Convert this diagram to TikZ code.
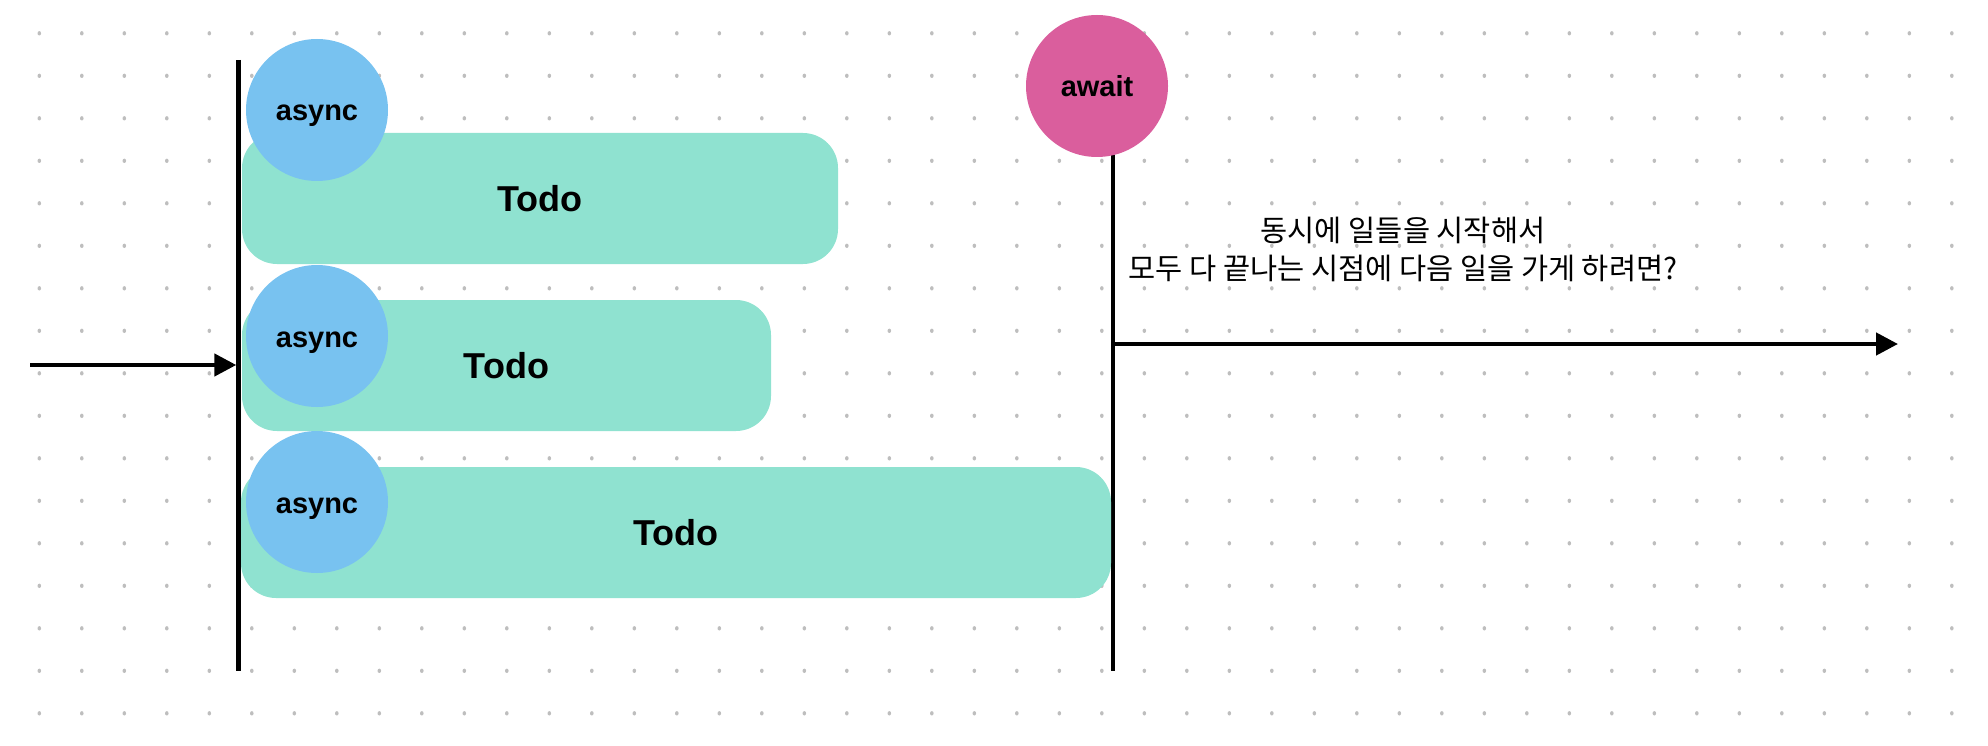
\documentclass[tikz,border=0pt]{standalone}
\usepackage{fontspec}
\setmainfont{Liberation Sans}
\newfontfamily\krfont{Noto Sans CJK KR}
\usepackage{xcolor}
\usepackage{tikz}
\usetikzlibrary{calc, arrows.meta, positioning, backgrounds}

\definecolor{asyncblue}{RGB}{120,194,240}
\definecolor{todogreen}{RGB}{143,226,208}
\definecolor{awaitpink}{RGB}{218,94,157}
\definecolor{dotgray}{RGB}{190,190,190}

\begin{document}
\begin{tikzpicture}[x=1pt,y=-1pt,
		todobox/.style={fill=todogreen, rounded corners=35pt, minimum height=131pt, inner sep=0pt, font=\fontsize{36}{42}\selectfont\bfseries},
		ball/.style={circle, minimum size=142pt, inner sep=0pt, text height=22pt, text depth=0pt, font=\fontsize{29}{34}\selectfont\bfseries},
		timeline/.style={line width=4.5pt},
		flow/.style={line width=4.5pt, -{Triangle[length=22pt,width=22pt]}}]
			% Picture's grid definition
			\def\gridX{39.3}
			\def\gridY{33.3}
			\def\gap{42.5}
			
			\useasboundingbox (0,0) rectangle (1988,746);
			
			% DOT GRID
			\foreach \i in {0,...,45}{
				\foreach \j in {0,...,16}{
					\fill[dotgray] ({\gridX+\gap*\i},{\gridY+\gap*\j}) ellipse (1.8 and 2.2);
				}
			}
			
			% TIMELINES
			\coordinate (forkTop) at (238.5,60);
			\coordinate (forkBot) at (238.5,671);
			\coordinate (joinTop) at (1113,150);
			\coordinate (joinBot) at (1113,671);
			\coordinate (start) at (30,365);
			\coordinate (finish) at (1898,344);
			\draw[timeline] (forkTop) -- (forkBot);
			\draw[timeline] (joinTop) -- (joinBot);
			
			% INPUT AND OUTPUT ARROWS
			\draw[flow] (start) -- (start -| 236.3,0);
			\draw[flow] (finish -| joinTop) -- (finish);
			
			% TODO BOXES
			\node[todobox, minimum width=596pt] (todo1) at (540,198.5) {Todo};
			\node[todobox, minimum width=529pt] (todo2) at (506.5,365.5) {Todo};
			\node[todobox, minimum width=870pt] (todo3) at (676,532.5) {Todo};
			
			% ASYNC BALLS
			\node[ball, fill=asyncblue] (async1) at (317,110) {async};
			\node[ball, fill=asyncblue] (async2) at (317,336) {async};
			\node[ball, fill=asyncblue] (async3) at (317,502) {async};
			
			% AWAIT BALL
			\node[ball, fill=awaitpink] (await) at (1097,86) {await};
			
			% QUESTION
			\node[align=center, font=\krfont\fontsize{29.5}{38}\selectfont] (question) at (1403,249) {동시에 일들을 시작해서\\모두 다 끝나는 시점에 다음 일을 가게 하려면?};
		\end{tikzpicture}
\end{document}
